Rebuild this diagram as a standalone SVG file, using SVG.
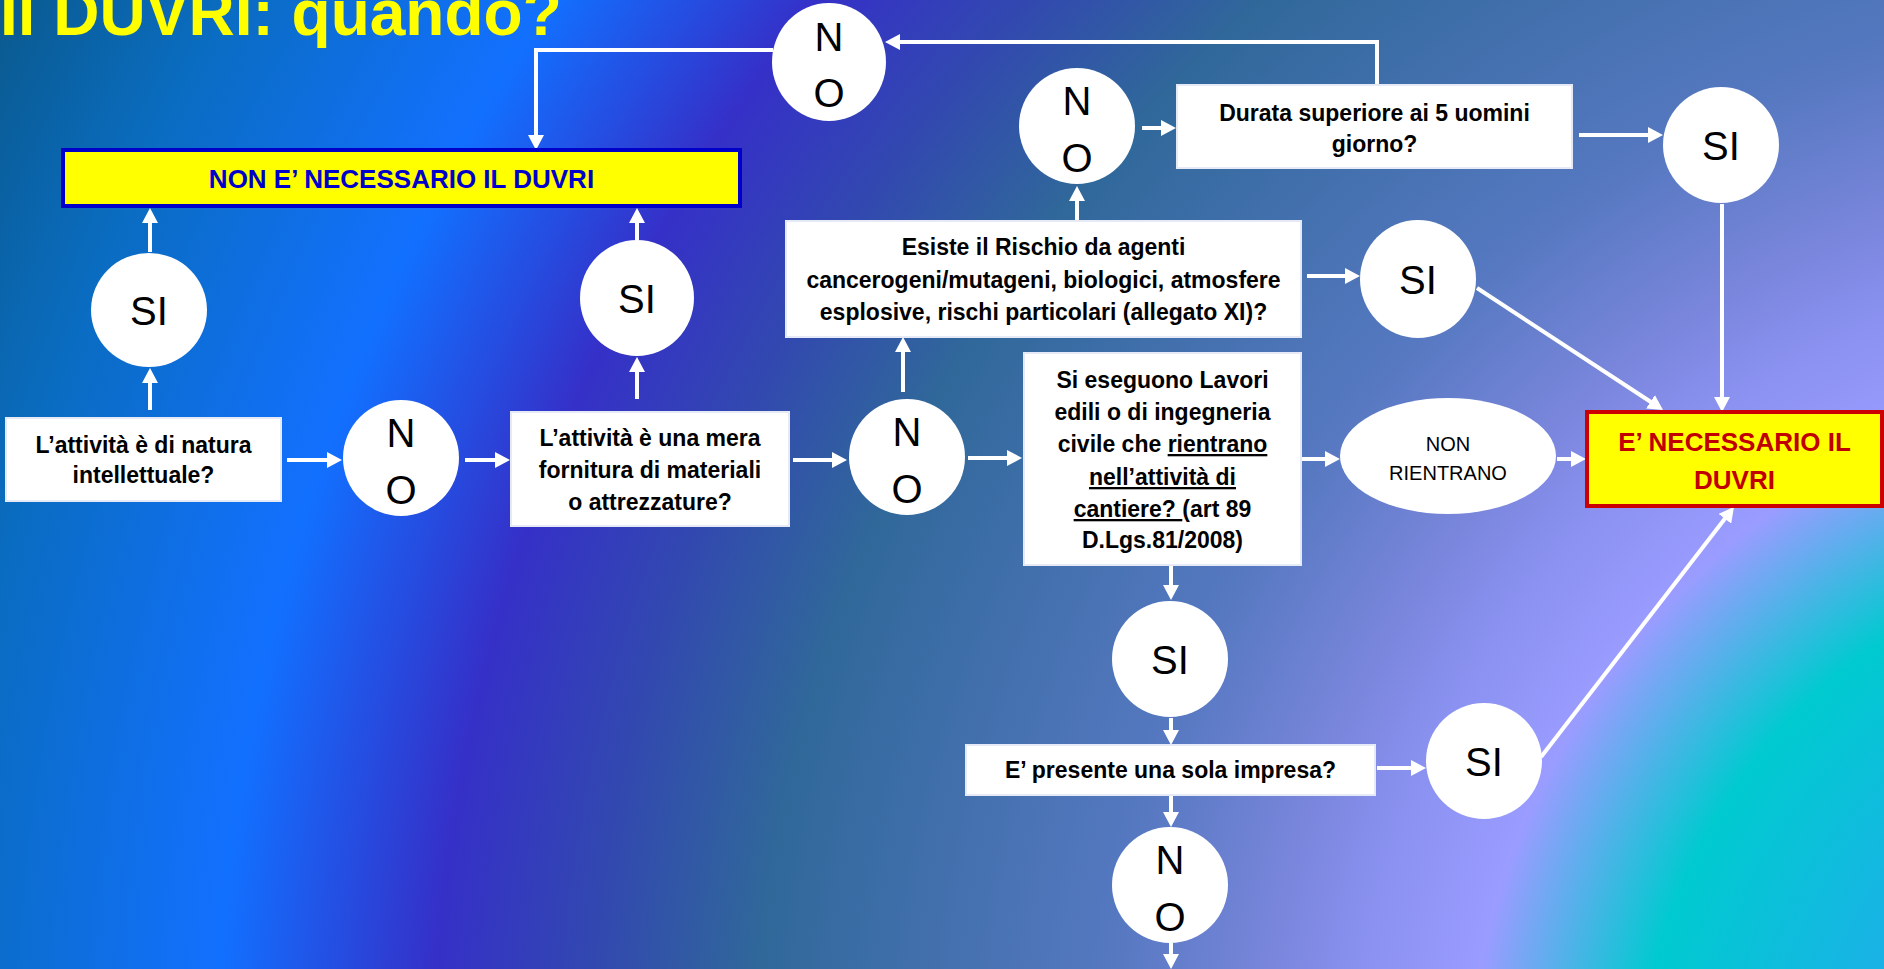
<svg xmlns="http://www.w3.org/2000/svg" width="1884" height="969" viewBox="0 0 1884 969">
<defs>
<radialGradient id="bg" gradientUnits="userSpaceOnUse" cx="2199" cy="1104" r="2460">
<stop offset="0" stop-color="#1aa6ea"/>
<stop offset="0.14" stop-color="#1ab2e6"/>
<stop offset="0.228" stop-color="#00cad0"/>
<stop offset="0.297" stop-color="#9a9cff"/>
<stop offset="0.35" stop-color="#8890ee"/>
<stop offset="0.38" stop-color="#7a86dc"/>
<stop offset="0.447" stop-color="#5578c0"/>
<stop offset="0.588" stop-color="#30689a"/>
<stop offset="0.655" stop-color="#3248b0"/>
<stop offset="0.719" stop-color="#3530c8"/>
<stop offset="0.806" stop-color="#1270ff"/>
<stop offset="0.92" stop-color="#0a6cc0"/>
<stop offset="1" stop-color="#0a5a8e"/>
</radialGradient>
<marker id="ah" markerUnits="userSpaceOnUse" markerWidth="16" markerHeight="16" refX="6" refY="8" orient="auto">
<path d="M0,0 L15,8 L0,16 z" fill="#ffffff"/>
</marker>
<style>
.box{fill:#ffffff;stroke:#e6eaf6;stroke-width:2}
.bub{fill:#ffffff}
.bt{font-family:"Liberation Sans",Arial,sans-serif;font-weight:bold;font-size:23px;fill:#000000;text-anchor:middle}
.ct{font-family:"Liberation Sans",Arial,sans-serif;font-size:40px;fill:#000000;text-anchor:middle}
.sm{font-family:"Liberation Sans",Arial,sans-serif;font-size:20px;fill:#000000;text-anchor:middle}
.con{fill:none;stroke:#ffffff;stroke-width:4;marker-end:url(#ah)}
.u{text-decoration:underline}
</style>
</defs>
<rect x="0" y="0" width="1884" height="969" fill="url(#bg)"/>
<text x="0" y="35" font-family="'Liberation Sans',Arial,sans-serif" font-weight="bold" font-size="64" fill="#ffff00">Il DUVRI: quando?</text>

<g id="connectors">
<path class="con" d="M1377,85 V42 H894"/>
<path class="con" d="M773,50 H536 V141"/>
<path class="con" d="M150,410 V377"/>
<path class="con" d="M150,252 V217"/>
<path class="con" d="M637,399 V366"/>
<path class="con" d="M637,240 V217"/>
<path class="con" d="M287,460 H333"/>
<path class="con" d="M465,460 H501"/>
<path class="con" d="M793,460 H838"/>
<path class="con" d="M968,458 H1013"/>
<path class="con" d="M903,392 V346"/>
<path class="con" d="M1077,220 V195"/>
<path class="con" d="M1142,128 H1167"/>
<path class="con" d="M1579,135 H1654"/>
<path class="con" d="M1722,204 V403"/>
<path class="con" d="M1307,276 H1351"/>
<path class="con" d="M1477,288 L1655.5,405"/>
<path class="con" d="M1301,459 H1331"/>
<path class="con" d="M1557,459 H1577"/>
<path class="con" d="M1171,565 V591"/>
<path class="con" d="M1171,718 V736"/>
<path class="con" d="M1377,768 H1417"/>
<path class="con" d="M1541,757 L1728.5,514"/>
<path class="con" d="M1171,795 V818"/>
<path class="con" d="M1171,943 V960"/>
</g>

<g id="non-necessario">
<rect x="63" y="150" width="677" height="56" fill="#ffff00" stroke="#0000c8" stroke-width="4"/>
<text x="401.5" y="188" font-family="'Liberation Sans',Arial,sans-serif" font-weight="bold" font-size="26" fill="#0000cc" text-anchor="middle">NON E’ NECESSARIO IL DUVRI</text>
</g>

<g id="no-top">
<ellipse class="bub" cx="829" cy="62" rx="57" ry="59"/>
<text class="ct" x="829" y="51">N</text>
<text class="ct" x="829" y="107">O</text>
</g>

<g id="si-left">
<ellipse class="bub" cx="149" cy="310" rx="58" ry="57"/>
<text class="ct" x="149" y="325">SI</text>
</g>

<g id="si-mid">
<ellipse class="bub" cx="637" cy="298" rx="57" ry="58"/>
<text class="ct" x="637" y="313">SI</text>
</g>

<g id="q-intellettuale">
<rect class="box" x="6" y="418" width="275" height="83"/>
<text class="bt" x="143.5" y="453">L’attività è di natura</text>
<text class="bt" x="143.5" y="483">intellettuale?</text>
</g>

<g id="no-1">
<ellipse class="bub" cx="401" cy="458" rx="58" ry="58"/>
<text class="ct" x="401" y="447">N</text>
<text class="ct" x="401" y="504">O</text>
</g>

<g id="q-fornitura">
<rect class="box" x="511" y="412" width="278" height="114"/>
<text class="bt" x="650" y="446">L’attività è una mera</text>
<text class="bt" x="650" y="478">fornitura di materiali</text>
<text class="bt" x="650" y="510">o attrezzature?</text>
</g>

<g id="no-2">
<ellipse class="bub" cx="907" cy="457" rx="58" ry="58"/>
<text class="ct" x="907" y="446">N</text>
<text class="ct" x="907" y="503">O</text>
</g>

<g id="q-rischio">
<rect class="box" x="786" y="221" width="515" height="116"/>
<text class="bt" x="1043.5" y="255">Esiste il Rischio da agenti</text>
<text class="bt" x="1043.5" y="288">cancerogeni/mutageni, biologici, atmosfere</text>
<text class="bt" x="1043.5" y="320">esplosive, rischi particolari (allegato XI)?</text>
</g>

<g id="no-3">
<ellipse class="bub" cx="1077" cy="126" rx="58" ry="58"/>
<text class="ct" x="1077" y="115">N</text>
<text class="ct" x="1077" y="172">O</text>
</g>

<g id="q-durata">
<rect class="box" x="1177" y="85" width="395" height="83"/>
<text class="bt" x="1374.5" y="121">Durata superiore ai 5 uomini</text>
<text class="bt" x="1374.5" y="152">giorno?</text>
</g>

<g id="si-durata">
<ellipse class="bub" cx="1721" cy="145" rx="58" ry="58"/>
<text class="ct" x="1721" y="160">SI</text>
</g>

<g id="si-rischio">
<ellipse class="bub" cx="1418" cy="279" rx="58" ry="59"/>
<text class="ct" x="1418" y="294">SI</text>
</g>

<g id="q-lavori">
<rect class="box" x="1024" y="353" width="277" height="212"/>
<text class="bt" x="1162.5" y="388">Si eseguono Lavori</text>
<text class="bt" x="1162.5" y="420">edili o di ingegneria</text>
<text class="bt" x="1162.5" y="452">civile che <tspan class="u">rientrano</tspan></text>
<text class="bt" x="1162.5" y="485"><tspan class="u">nell’attività di</tspan></text>
<text class="bt" x="1162.5" y="517"><tspan class="u">cantiere? </tspan>(art 89</text>
<text class="bt" x="1162.5" y="548">D.Lgs.81/2008)</text>
</g>

<g id="non-rientrano">
<ellipse class="bub" cx="1448" cy="456" rx="108" ry="58"/>
<text class="sm" x="1448" y="451">NON</text>
<text class="sm" x="1448" y="480">RIENTRANO</text>
</g>

<g id="necessario">
<rect x="1587" y="412" width="295" height="94" fill="#ffff00" stroke="#cc0000" stroke-width="4"/>
<text x="1734.5" y="451" font-family="'Liberation Sans',Arial,sans-serif" font-weight="bold" font-size="26" fill="#c00000" text-anchor="middle">E’ NECESSARIO IL</text>
<text x="1734.5" y="489" font-family="'Liberation Sans',Arial,sans-serif" font-weight="bold" font-size="26" fill="#c00000" text-anchor="middle">DUVRI</text>
</g>

<g id="si-lower">
<ellipse class="bub" cx="1170" cy="659" rx="58" ry="58"/>
<text class="ct" x="1170" y="674">SI</text>
</g>

<g id="q-impresa">
<rect class="box" x="966" y="745" width="409" height="50"/>
<text class="bt" x="1170.5" y="778">E’ presente una sola impresa?</text>
</g>

<g id="si-impresa">
<ellipse class="bub" cx="1484" cy="761" rx="58" ry="58"/>
<text class="ct" x="1484" y="776">SI</text>
</g>

<g id="no-lower">
<ellipse class="bub" cx="1170" cy="885" rx="58" ry="58"/>
<text class="ct" x="1170" y="874">N</text>
<text class="ct" x="1170" y="931">O</text>
</g>
</svg>
